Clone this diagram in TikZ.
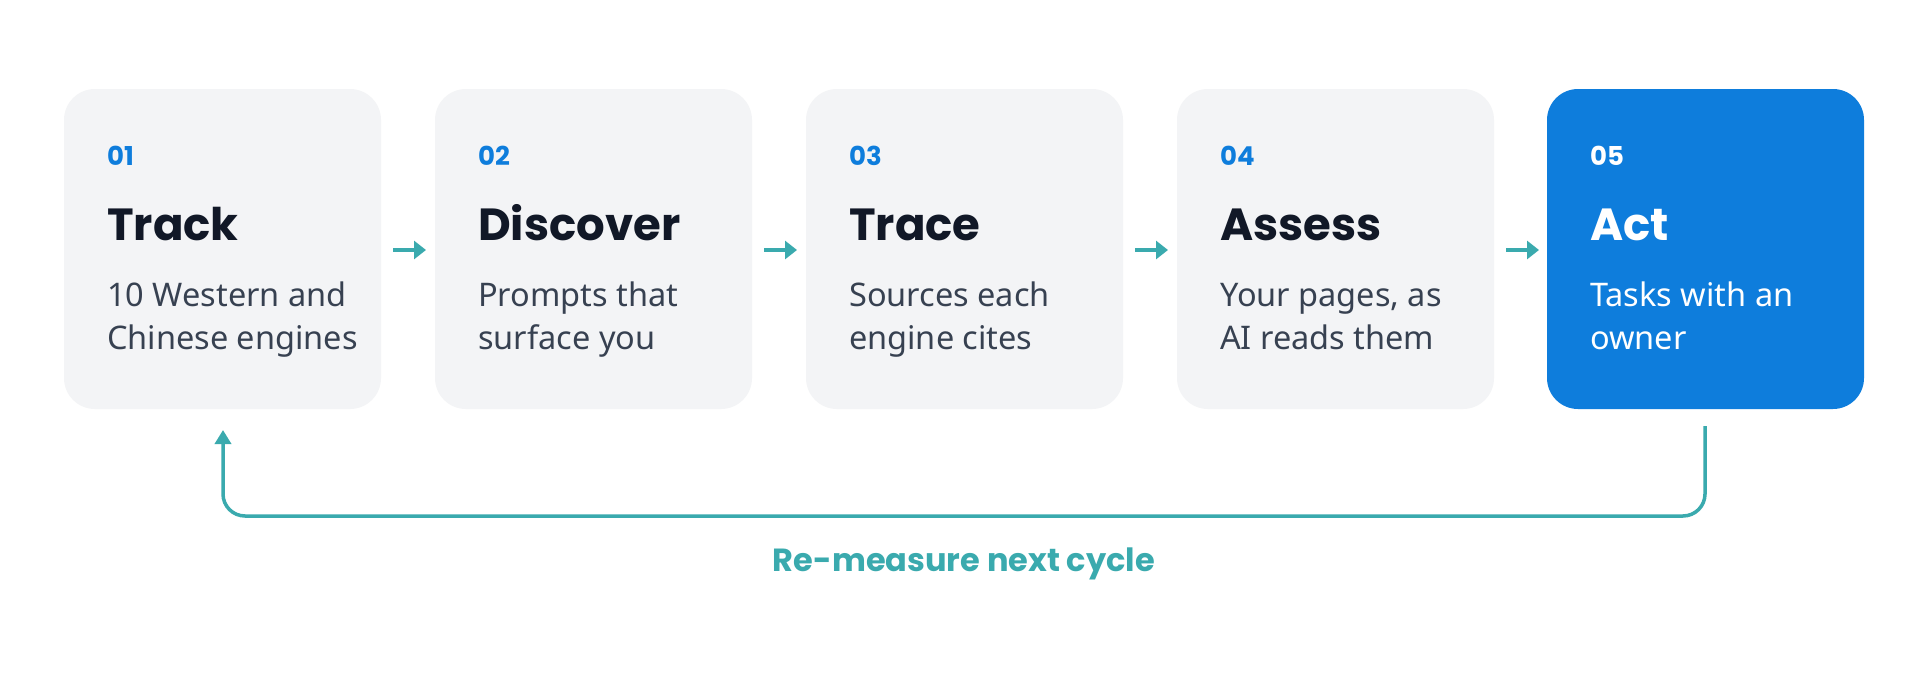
\documentclass[tikz,border=0pt]{standalone}
\usepackage{fontspec}
\setmainfont{Noto Sans}
\newfontfamily\headfont{Poppins}[UprightFont=* SemiBold,BoldFont=* Bold]
\usetikzlibrary{arrows.meta}
\definecolor{boxgray}{HTML}{F3F4F6}
\definecolor{actblue}{HTML}{0E7DDC}
\definecolor{teal}{HTML}{3AAAAE}
\definecolor{titlec}{HTML}{111827}
\definecolor{bodyc}{HTML}{374151}
\begin{document}
\begin{tikzpicture}[x=1pt,y=-1pt,
  card/.style={rounded corners=31pt,fill=boxgray,draw=none},
  num/.style={anchor=base west,font=\headfont\bfseries\fontsize{26}{30}\selectfont,text=actblue,inner sep=0},
  ttl/.style={anchor=base west,font=\headfont\bfseries\fontsize{45}{50}\selectfont,text=titlec,inner sep=0},
  body/.style={anchor=base west,font=\fontsize{32.5}{40}\selectfont,text=bodyc,inner sep=0},
  flow/.style={teal,line width=4.5pt,-{Triangle[length=12pt,width=18pt]}},
  loop/.style={teal,line width=3.5pt,rounded corners=22pt,-{Triangle[length=14pt,width=16pt]}}]
\useasboundingbox (0,0) rectangle (1928,680);
\fill[white] (0,0) rectangle (1928,680);
\foreach \i/\n/\t/\a/\b in {0/01/Track/10 Western and/Chinese engines,1/02/Discover/Prompts that/surface you,2/03/Trace/Sources each/engine cites,3/04/Assess/{Your pages, as}/AI reads them}{
  \pgfmathsetmacro{\xx}{64+371*\i}
  \fill[card] (\xx,89) rectangle ++(317,320);
  \node[num] (n\i) at (\xx+43,165) {\n};
  \node[ttl] (t\i) at (\xx+43,240) {\t};
  \node[body] (a\i) at (\xx+43,306) {\a};
  \node[body] (b\i) at (\xx+43,349) {\b};
}
\fill[actblue,rounded corners=31pt] (1547,89) rectangle ++(317,320);
\node[num,text=white] (n4) at (1590,165) {05};
\node[ttl,text=white] (t4) at (1590,240) {Act};
\node[body,text=white] (a4) at (1590,306) {Tasks with an};
\node[body,text=white] (b4) at (1590,349) {owner};
\foreach \i in {0,1,2,3}{
  \pgfmathsetmacro{\xa}{64+371*\i+329}
  \coordinate (as\i) at (\xa,250);
  \coordinate (ae\i) at (\xa+33,250);
  \draw[flow] (as\i) -- (ae\i);
}
\coordinate (ls) at (1705,426);
\coordinate (le) at (223,430);
\draw[loop] (ls) -- (1705,516) -- (223,516) -- (le);
\node[font=\headfont\bfseries\fontsize{32}{38}\selectfont,text=teal] (lbl) at (964,564) {Re-measure next cycle};
\end{tikzpicture}
\end{document}
